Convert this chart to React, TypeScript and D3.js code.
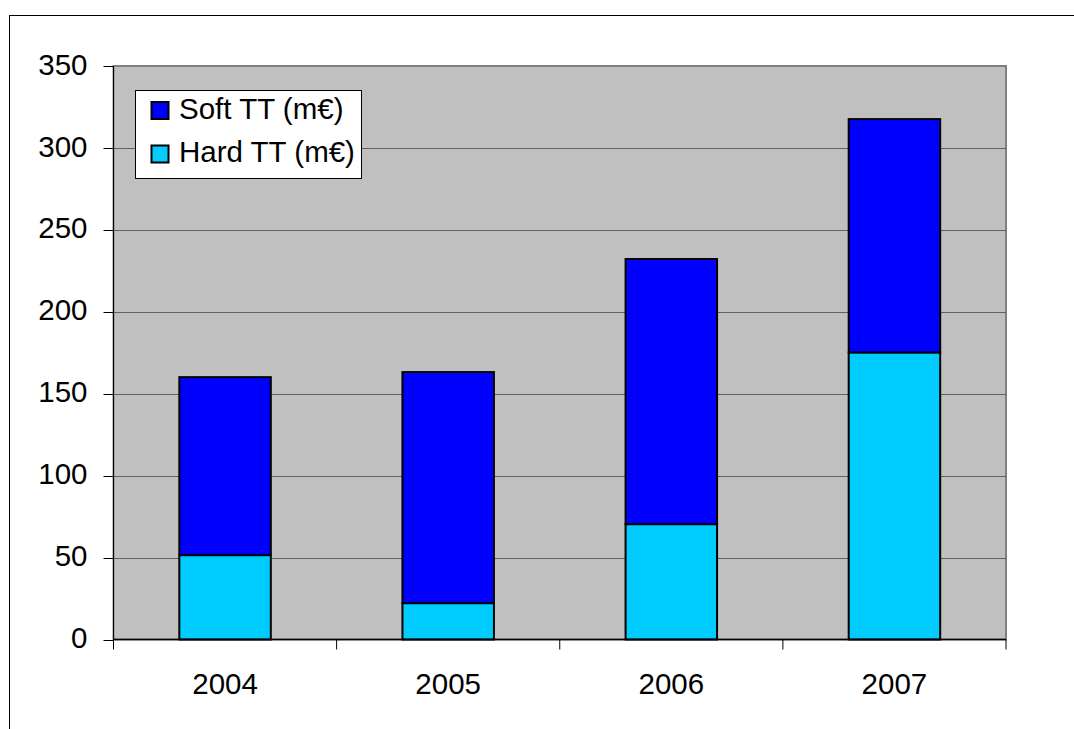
import React from 'react';
import * as d3 from 'd3';

const years = ['2004', '2005', '2006', '2007'];
const hardTT = [51.5, 22.2, 70.4, 175.2];
const softTT = [108.6, 141.0, 161.8, 142.4];
const yTicks = [0, 50, 100, 150, 200, 250, 300, 350];
const seriesNames = ['Soft TT (m€)', 'Hard TT (m€)'];
const seriesColors = ['#0000ff', '#00ccff'];

const W = 1074;
const H = 729;
const plot = { left: 113.5, top: 66, right: 1006, bottom: 639.5 };
const font = 'Arial, "Liberation Sans", sans-serif';
const fs = 29.5;

const App: React.FC = () => {
  const x = d3.scaleBand<string>()
    .domain(years)
    .range([plot.left, plot.right])
    .paddingInner(0.59)
    .paddingOuter(0.295);

  const y = d3.scaleLinear()
    .domain([0, 350])
    .range([plot.bottom, plot.top]);

  const stacked = d3.stack<number>()
    .keys(['hard', 'soft'])
    .value((i, key) => (key === 'hard' ? hardTT[i] : softTT[i]))(years.map((_, i) => i));

  const catW = (plot.right - plot.left) / years.length;
  const bounds = d3.range(years.length + 1).map(i => plot.left + i * catW);

  return (
    <svg width={W} height={H} style={{ position: 'absolute', left: 0, top: 0, background: '#fff' }}>
      {/* outer frame */}
      <rect x={9.5} y={15.5} width={1100} height={800} fill="none" stroke="#000" strokeWidth={1} />

      {/* plot area */}
      <rect x={plot.left} y={plot.top} width={plot.right - plot.left} height={plot.bottom - plot.top}
        fill="#c0c0c0" stroke="#808080" strokeWidth={2} />

      {/* gridlines */}
      {yTicks.slice(1, -1).map(t => (
        <line key={t} x1={plot.left} x2={plot.right} y1={Math.round(y(t)) + 0.5} y2={Math.round(y(t)) + 0.5}
          stroke="#606060" strokeWidth={1} />
      ))}

      {/* bars */}
      {stacked.map(layer => (
        <g key={layer.key}>
          {layer.map((d, i) => (
            <rect key={i} x={x(years[i])!} y={y(d[1])} width={x.bandwidth()} height={y(d[0]) - y(d[1])}
              fill={layer.key === 'hard' ? seriesColors[1] : seriesColors[0]} stroke="#000" strokeWidth={2} />
          ))}
        </g>
      ))}

      {/* axes */}
      <line x1={plot.left} x2={plot.left} y1={plot.top} y2={plot.bottom} stroke="#000" strokeWidth={1} />
      <line x1={plot.left} x2={plot.right} y1={plot.bottom} y2={plot.bottom} stroke="#000" strokeWidth={1.5} />
      {yTicks.map(t => (
        <g key={t}>
          <line x1={plot.left - 10} x2={plot.left} y1={Math.round(y(t)) + 0.5} y2={Math.round(y(t)) + 0.5} stroke="#000" />
          <text x={87.5} y={y(t) + 8.6} textAnchor="end" fontFamily={font} fontSize={fs} fill="#000">{t}</text>
        </g>
      ))}
      {bounds.map((b, i) => (
        <line key={i} x1={b} x2={b} y1={plot.bottom} y2={plot.bottom + 10} stroke="#000" />
      ))}
      {years.map(yr => (
        <text key={yr} x={x(yr)! + x.bandwidth() / 2} y={694.3} textAnchor="middle" fontFamily={font} fontSize={fs} fill="#000">{yr}</text>
      ))}

      {/* legend */}
      <rect x={135.5} y={90.5} width={226} height={88} fill="#fff" stroke="#000" strokeWidth={1} />
      {seriesNames.map((name, i) => (
        <g key={name} transform={`translate(0, ${i * 43.5})`}>
          <rect x={151.5} y={102} width={17} height={17} fill={seriesColors[i]} stroke="#000" strokeWidth={2} />
          <text x={179} y={118.5} fontFamily={font} fontSize={fs} fill="#000">{name}</text>
        </g>
      ))}
    </svg>
  );
};

export default App;
